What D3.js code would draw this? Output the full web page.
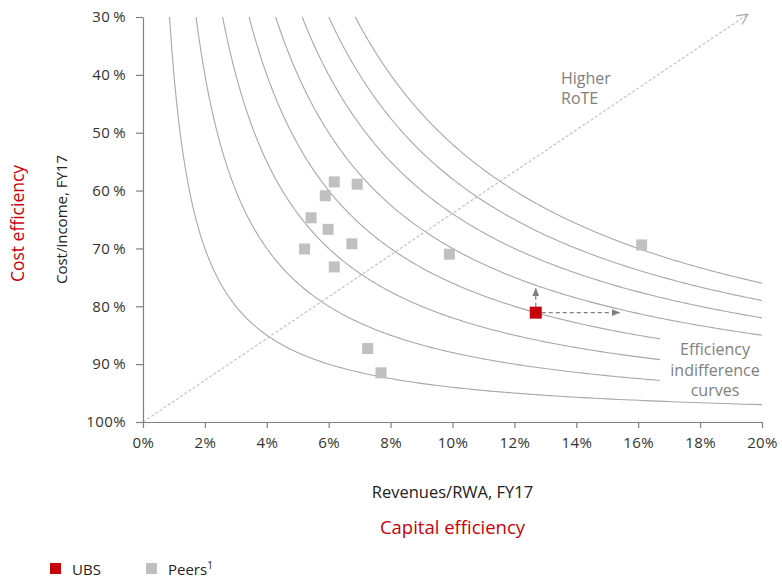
<!DOCTYPE html>
<html>
<head>
<meta charset="utf-8">
<script src="https://cdn.jsdelivr.net/npm/d3@7"></script>
<style>
  html, body { margin: 0; padding: 0; background: #fff; }
  svg { display: block; font-family: "Open Sans", "Noto Sans", sans-serif; }
</style>
</head>
<body>
<svg id="chart" width="782" height="581"></svg>
<script>
// Revenues/RWA (%) and cost/income (%) for FY17
const peersRevRwa  = [6.18, 6.92, 5.89, 5.43, 5.98, 5.22, 6.75, 6.18, 9.90, 16.11, 7.26, 7.69];
const peersCostInc = [58.5, 58.9, 60.9, 64.7, 66.7, 70.1, 69.2, 73.2, 71.0, 69.4, 87.3, 91.5];
const ubsRevRwa  = [12.69];
const ubsCostInc = [81.1];
// Improvement directions shown from the UBS point
const ubsCostTarget = 76.9;     // cost/income arrow tip (%)
const ubsCapitalTarget = 15.4;  // revenues/RWA arrow tip (%)

// Iso-RoTE levels: revenues/RWA x (1 - cost/income), in % points
const rOteLevels = [0.6, 1.2, 1.8, 2.4, 3.0, 3.6, 4.2, 4.8];
const levelEnds  = [20, 16.7, 16.7, 16.7, 20, 20, 20, 20];   // where each curve stops (% revenues/RWA)

const xTicks = [0, 2, 4, 6, 8, 10, 12, 14, 16, 18, 20];
const xTickLabels = ["0%", "2%", "4%", "6%", "8%", "10%", "12%", "14%", "16%", "18%", "20%"];
const yTicks = [30, 40, 50, 60, 70, 80, 90, 100];
const yTickLabels = ["30\u2009%", "40\u2009%", "50\u2009%", "60\u2009%", "70\u2009%", "80\u2009%", "90\u2009%", "100%"];

const RED = "#c8000a";
const svg = d3.select("#chart");

const x = d3.scaleLinear().domain([0, 20]).range([143, 762]);
const y = d3.scaleLinear().domain([30, 100]).range([17, 422]);

// Indifference curves
const line = d3.line().x(d => x(d[0])).y(d => y(d[1]));
const curveG = svg.append("g");
rOteLevels.forEach((k, i) => {
  const r0 = k / 0.70;               // revenues/RWA where the curve meets 30% cost/income
  const r1 = levelEnds[i];
  const n = 240;
  const pts = d3.range(n + 1).map(j => {
    // denser sampling near the steep upper part
    const t = j / n;
    const r = r0 * Math.pow(r1 / r0, t);
    return [r, 100 * (1 - k / r)];
  });
  curveG.append("path")
    .attr("d", line(pts))
    .attr("fill", "none")
    .attr("stroke", "#a8a8a8")
    .attr("stroke-width", 1.1);
});

// "Higher RoTE" diagonal
const diagStart = [0, 100], diagEnd = [19.55, 29.5];
const dx0 = x(diagStart[0]), dy0 = y(diagStart[1]), dx1 = x(diagEnd[0]), dy1 = y(diagEnd[1]);
svg.append("line")
  .attr("x1", dx0).attr("y1", dy0).attr("x2", dx1).attr("y2", dy1)
  .attr("stroke", "#c4c4c4").attr("stroke-width", 1.2).attr("stroke-dasharray", "3,2");
const ang = Math.atan2(dy1 - dy0, dx1 - dx0);
[-1, 1].forEach(s => {
  const a = ang + Math.PI + s * 0.45;
  svg.append("line")
    .attr("x1", dx1).attr("y1", dy1)
    .attr("x2", dx1 + 12 * Math.cos(a)).attr("y2", dy1 + 12 * Math.sin(a))
    .attr("stroke", "#aaaaaa").attr("stroke-width", 1.2);
});

// Axes
const axisColor = "#808080";
const xAxis = svg.append("g").attr("transform", `translate(0,${y(100)})`)
  .call(d3.axisBottom(x).tickValues(xTicks).tickFormat((d, i) => xTickLabels[i])
    .tickSize(6).tickSizeOuter(0).tickPadding(9));
const yAxis = svg.append("g").attr("transform", `translate(${x(0)},0)`)
  .call(d3.axisLeft(y).tickValues(yTicks).tickFormat((d, i) => yTickLabels[i])
    .tickSize(7).tickSizeOuter(0).tickPadding(10));
[xAxis, yAxis].forEach(g => {
  g.select(".domain").attr("stroke", axisColor).attr("stroke-width", 1.2);
  g.selectAll(".tick line").attr("stroke", axisColor).attr("stroke-width", 1.2);
  g.selectAll(".tick text").attr("fill", "#333").style("font-size", "15px")
    .style("letter-spacing", "0.4px")
    .style("font-family", "'Open Sans', 'Noto Sans', sans-serif");
});

// Peers
const sq = 11;
svg.append("g").selectAll("rect").data(peersRevRwa).join("rect")
  .attr("x", (d, i) => x(d) - sq / 2)
  .attr("y", (d, i) => y(peersCostInc[i]) - sq / 2)
  .attr("width", sq).attr("height", sq)
  .attr("fill", "#c0c0c0");

// UBS improvement arrows
const defs = svg.append("defs");
defs.append("marker").attr("id", "tri")
  .attr("viewBox", "0 0 10 10").attr("refX", 9).attr("refY", 5)
  .attr("markerWidth", 7).attr("markerHeight", 7).attr("orient", "auto")
  .append("path").attr("d", "M0,1 L10,5 L0,9 Z").attr("fill", "#808080");
const ux = x(ubsRevRwa[0]), uy = y(ubsCostInc[0]);
svg.append("line")
  .attr("x1", ux).attr("y1", uy - 6).attr("x2", ux).attr("y2", y(ubsCostTarget))
  .attr("stroke", "#808080").attr("stroke-width", 1.2).attr("stroke-dasharray", "4,3")
  .attr("marker-end", "url(#tri)");
svg.append("line")
  .attr("x1", ux + 6).attr("y1", uy).attr("x2", x(ubsCapitalTarget)).attr("y2", uy)
  .attr("stroke", "#808080").attr("stroke-width", 1.2).attr("stroke-dasharray", "4,3")
  .attr("marker-end", "url(#tri)");

// UBS
const usq = 12;
svg.append("g").selectAll("rect").data(ubsRevRwa).join("rect")
  .attr("x", d => x(d) - usq / 2)
  .attr("y", (d, i) => y(ubsCostInc[i]) - usq / 2)
  .attr("width", usq).attr("height", usq)
  .attr("fill", RED);

// Annotations
const note = svg.append("g").attr("fill", "#808080").style("font-size", "16px");
note.append("text").attr("x", 561).attr("y", 84).text("Higher");
note.append("text").attr("x", 561).attr("y", 104).text("RoTE");
const eff = svg.append("g").attr("fill", "#808080").style("font-size", "16px").attr("text-anchor", "middle");
eff.append("text").attr("x", 715).attr("y", 355).text("Efficiency");
eff.append("text").attr("x", 715).attr("y", 376).text("indifference");
eff.append("text").attr("x", 715).attr("y", 396).text("curves");

// Axis titles
const midY = (y(30) + y(100)) / 2, midX = (x(0) + x(20)) / 2;
svg.append("text").attr("transform", `translate(67,${midY}) rotate(-90)`)
  .attr("text-anchor", "middle").attr("fill", "#222").style("font-size", "15px")
  .text("Cost/income, FY17");
svg.append("text").attr("transform", `translate(24,${midY + 4}) rotate(-90)`)
  .attr("text-anchor", "middle").attr("fill", RED).style("font-size", "17.5px")
  .text("Cost efficiency");
svg.append("text").attr("x", midX).attr("y", 498)
  .attr("text-anchor", "middle").attr("fill", "#222").style("font-size", "16.5px")
  .text("Revenues/RWA, FY17");
svg.append("text").attr("x", midX).attr("y", 534)
  .attr("text-anchor", "middle").attr("fill", RED).style("font-size", "18.5px")
  .text("Capital efficiency");

// Legend
const legend = svg.append("g").style("font-size", "15px").attr("fill", "#222");
legend.append("rect").attr("x", 50).attr("y", 563).attr("width", 11).attr("height", 11).attr("fill", RED);
legend.append("text").attr("x", 72).attr("y", 575).text("UBS");
legend.append("rect").attr("x", 146).attr("y", 563).attr("width", 11).attr("height", 11).attr("fill", "#c0c0c0");
const pt = legend.append("text").attr("x", 168).attr("y", 575).text("Peers");
pt.append("tspan").attr("dy", -6).style("font-size", "10px").text("1");
</script>
</body>
</html>
